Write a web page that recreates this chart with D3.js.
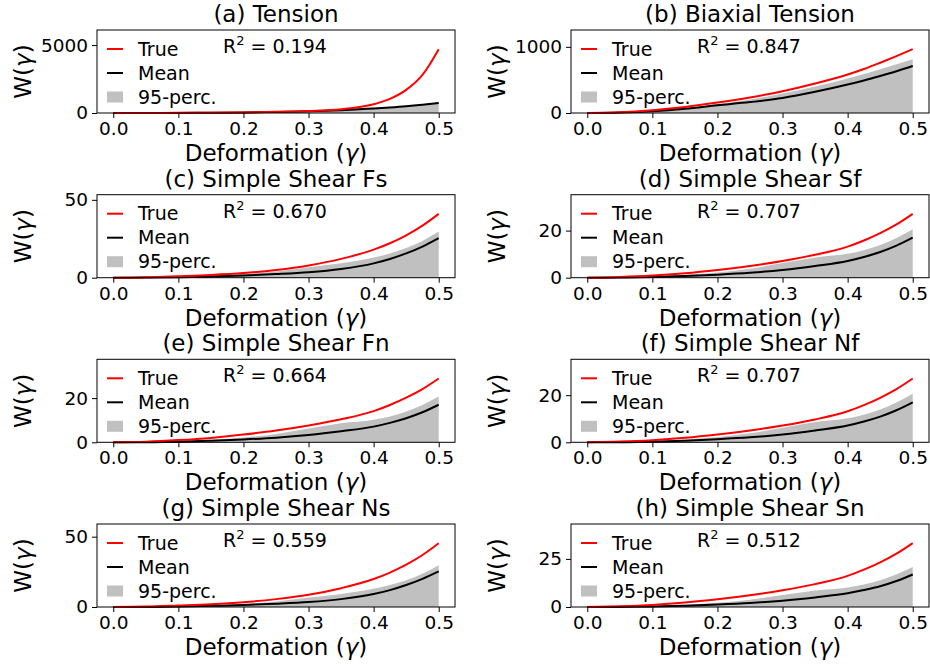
<!DOCTYPE html>
<html>
<head>
<meta charset="utf-8">
<script src="https://cdn.jsdelivr.net/npm/d3@7"></script>
<style>
  body { margin: 0; background: #fff; }
  svg { display: block; font-family: "DejaVu Sans", sans-serif; }
</style>
</head>
<body>
<svg width="930" height="668"></svg>
<script>
const svg = d3.select("svg");

// deformation grid
const gamma = [0, 0.05, 0.1, 0.15, 0.2, 0.25, 0.3, 0.35, 0.4, 0.425, 0.45, 0.475, 0.5];

const titles = ["(a) Tension", "(b) Biaxial Tension", "(c) Simple Shear Fs", "(d) Simple Shear Sf",
  "(e) Simple Shear Fn", "(f) Simple Shear Nf", "(g) Simple Shear Ns", "(h) Simple Shear Sn"];
const r2 = ["0.194", "0.847", "0.670", "0.707", "0.664", "0.707", "0.559", "0.512"];
const yTicks = [[0, 5000], [0, 1000], [0, 50], [0, 20], [0, 20], [0, 20], [0, 50], [0, 25]];

const trueW = [
  [0, 3, 10, 22, 45, 85, 150, 275, 645, 1040, 1700, 2800, 4700],
  [0, 10, 40, 90, 157, 235, 328, 445, 582, 665, 760, 860, 965],
  [0, 0.3, 1.0, 1.8, 3.0, 5.0, 7.9, 12.1, 18.0, 22.1, 27.2, 33.4, 41],
  [0, 0.3, 0.9, 1.9, 3.3, 5.0, 7.1, 9.7, 13.2, 15.8, 18.9, 22.6, 27.1],
  [0, 0.3, 1.0, 2.0, 3.5, 5.3, 7.6, 10.4, 14.1, 16.9, 20.2, 24.1, 28.9],
  [0, 0.3, 0.9, 1.9, 3.3, 5.0, 7.1, 9.7, 13.2, 15.8, 18.9, 22.6, 27.1],
  [0, 0.3, 1.1, 2.0, 3.4, 5.6, 8.7, 13.4, 19.9, 24.5, 30.1, 37.0, 45.4],
  [0, 0.4, 1.1, 2.3, 4.0, 6.1, 8.7, 11.9, 16.2, 19.4, 23.2, 27.7, 33.2]
];
const meanW = [
  [0, 2, 8, 20, 40, 75, 125, 210, 325, 400, 490, 605, 740],
  [0, 7, 28, 65, 117, 165, 227, 320, 430, 492, 560, 632, 712],
  [0, 0.05, 0.3, 0.8, 1.4, 2.3, 3.5, 5.6, 9.2, 12.0, 15.6, 20.0, 25.4],
  [0, 0.05, 0.25, 0.7, 1.3, 2.1, 3.3, 5.0, 7.1, 8.8, 10.9, 13.6, 17.0],
  [0, 0.05, 0.25, 0.7, 1.3, 2.1, 3.3, 5.0, 7.1, 8.8, 10.9, 13.6, 17.0],
  [0, 0.05, 0.25, 0.7, 1.3, 2.1, 3.3, 5.0, 7.1, 8.8, 10.9, 13.6, 17.0],
  [0, 0.05, 0.3, 0.8, 1.4, 2.3, 3.5, 5.6, 9.2, 12.0, 15.6, 20.0, 25.3],
  [0, 0.05, 0.25, 0.7, 1.3, 2.1, 3.3, 5.0, 7.1, 8.8, 10.8, 13.5, 16.9]
];
const upperW = [
  [0, 2, 9, 21, 42, 80, 133, 222, 345, 425, 520, 640, 785],
  [0, 8, 33, 75, 136, 205, 294, 400, 521, 588, 660, 735, 812],
  [0, 0.1, 0.5, 1.2, 2.2, 4.0, 6.7, 9.3, 12.9, 15.6, 19.0, 23.6, 29.6],
  [0, 0.1, 0.5, 1.2, 2.2, 3.8, 6.2, 8.6, 10.2, 11.7, 13.9, 16.9, 20.6],
  [0, 0.1, 0.5, 1.2, 2.2, 3.8, 6.2, 8.6, 10.2, 11.7, 13.9, 16.9, 20.7],
  [0, 0.1, 0.5, 1.2, 2.2, 3.8, 6.2, 8.6, 10.2, 11.7, 13.9, 16.9, 20.6],
  [0, 0.1, 0.5, 1.2, 2.2, 4.0, 6.7, 9.3, 12.9, 15.6, 19.0, 23.6, 29.6],
  [0, 0.1, 0.5, 1.2, 2.2, 3.8, 6.2, 8.6, 10.2, 11.7, 13.9, 17.0, 20.8]
];
const xTicks = [0, 0.1, 0.2, 0.3, 0.4, 0.5];

const colLeft = [97, 571];
const rowTop = [30, 194.7, 359.3, 524];
const W = 358, H = 83;

// text with an italic gamma, like mathtext
function gammaText(sel, before, after) {
  sel.append("tspan").text(before);
  sel.append("tspan").attr("font-style", "italic").text("γ");
  sel.append("tspan").text(after);
}

titles.forEach((title, i) => {
  const left = colLeft[i % 2], top = rowTop[Math.floor(i / 2)];
  const g = svg.append("g").attr("transform", `translate(${left},${top})`);

  const x = d3.scaleLinear().domain([-0.025, 0.525]).range([0, W]);
  const y = d3.scaleLinear().domain([0, 1.3 * d3.max(trueW[i])]).range([H, 0]);

  const pts = gamma.map((gm, k) => ({ g: gm, t: trueW[i][k], m: meanW[i][k], u: upperW[i][k] }));

  g.append("path").datum(pts)
    .attr("fill", "#c0c0c0")
    .attr("d", d3.area().x(d => x(d.g)).y0(y(0)).y1(d => y(d.u)).curve(d3.curveMonotoneX));
  g.append("path").datum(pts)
    .attr("fill", "none").attr("stroke", "black").attr("stroke-width", 2)
    .attr("d", d3.line().x(d => x(d.g)).y(d => y(d.m)).curve(d3.curveMonotoneX));
  g.append("path").datum(pts)
    .attr("fill", "none").attr("stroke", "red").attr("stroke-width", 2)
    .attr("d", d3.line().x(d => x(d.g)).y(d => y(d.t)).curve(d3.curveMonotoneX));

  // axes
  const xAxis = g.append("g").attr("transform", `translate(0,${H})`)
    .call(d3.axisBottom(x).tickValues(xTicks).tickFormat(d3.format(".1f")).tickSize(5).tickPadding(4));
  const yAxis = g.append("g")
    .call(d3.axisLeft(y).tickValues(yTicks[i]).tickFormat(d3.format("d")).tickSize(5).tickPadding(4));
  [xAxis, yAxis].forEach(a => {
    a.select(".domain").remove();
    a.selectAll("text").attr("font-size", 18.5).attr("fill", "black")
      .attr("font-family", "DejaVu Sans");
    a.selectAll("line").attr("stroke", "black").attr("stroke-width", 1);
  });

  g.append("rect").attr("x", 0).attr("y", 0).attr("width", W).attr("height", H)
    .attr("fill", "none").attr("stroke", "black").attr("stroke-width", 1);

  // title and labels
  g.append("text").attr("x", W / 2).attr("y", -8).attr("text-anchor", "middle")
    .attr("font-size", 23).text(title);
  g.append("text").attr("x", W / 2).attr("y", H + 48).attr("text-anchor", "middle")
    .attr("font-size", 23).call(gammaText, "Deformation (", ")");
  g.append("text").attr("transform", `translate(-66,${H / 2}) rotate(-90)`)
    .attr("text-anchor", "middle").attr("font-size", 23).call(gammaText, "W(", ")");

  // R^2 annotation
  const rt = g.append("text").attr("x", 126).attr("y", 23).attr("font-size", 19);
  rt.append("tspan").text("R");
  rt.append("tspan").attr("font-size", 13).attr("dy", -8).text("2");
  rt.append("tspan").attr("dy", 8).text(" = " + r2[i]);

  // legend
  const leg = [
    { label: "True", type: "line", c: "red" },
    { label: "Mean", type: "line", c: "black" },
    { label: "95-perc.", type: "patch", c: "#c0c0c0" }
  ];
  leg.forEach((e, k) => {
    const cy = 19 + k * 24;
    if (e.type === "line") {
      g.append("line").attr("x1", 10).attr("x2", 26).attr("y1", cy).attr("y2", cy)
        .attr("stroke", e.c).attr("stroke-width", 2);
    } else {
      g.append("rect").attr("x", 10).attr("y", cy - 5.5).attr("width", 16).attr("height", 11)
        .attr("fill", e.c);
    }
    g.append("text").attr("x", 41).attr("y", cy).attr("dy", ".35em")
      .attr("font-size", 19).text(e.label);
  });
});
</script>
</body>
</html>
